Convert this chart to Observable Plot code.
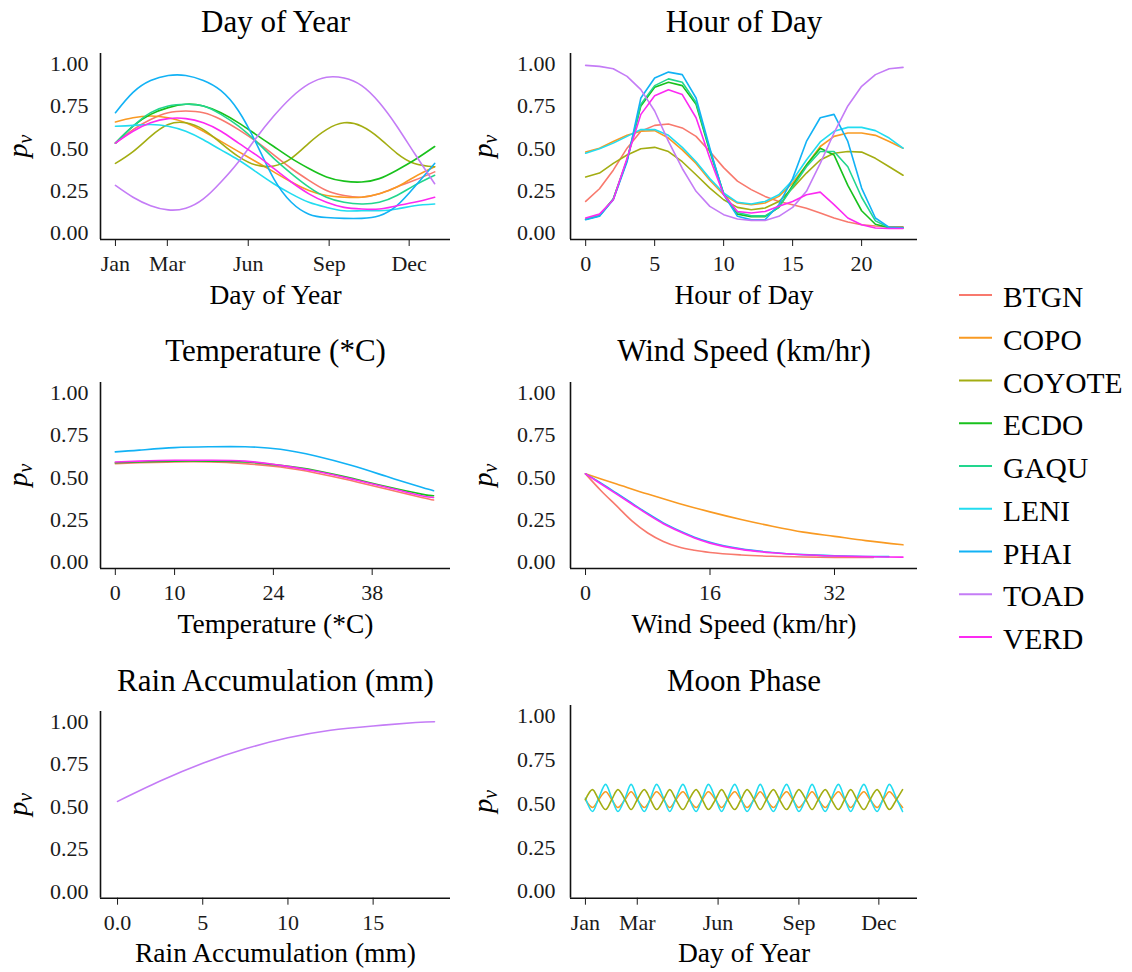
<!DOCTYPE html>
<html><head><meta charset="utf-8">
<script src="https://cdn.jsdelivr.net/npm/d3@7"></script>
<script src="https://cdn.jsdelivr.net/npm/@observablehq/plot@0.6"></script>
<style>
html,body{margin:0;padding:0;background:#fff;}
#root{position:relative;width:1132px;height:972px;overflow:hidden;background:#fff;}
#root svg{position:absolute;}
</style></head><body><div id="root"></div>
<script>
// ---------- shared ----------
const species = ["BTGN","COPO","COYOTE","ECDO","GAQU","LENI","PHAI","TOAD","VERD"];
const speciesColors = ["#F8796D","#F99A22","#A3AD12","#18C11C","#22D68E","#22DCF0","#12B2F5","#C47CF6","#FC2AF2"];
const yTickValues = [0, 0.25, 0.5, 0.75, 1];
const yTickLabels = ["0.00","0.25","0.50","0.75","1.00"];
const monthTickDays = [1, 60, 152, 244, 335];
const monthTickLabels = ["Jan","Mar","Jun","Sep","Dec"];

// ---------- Day of Year ----------
const doyDays = [1,21,41,61,81,101,121,141,161,181,201,221,241,261,281,301,321,341,364];
const doy_BTGN   = [0.52,0.60,0.66,0.70,0.71,0.70,0.66,0.60,0.53,0.45,0.37,0.30,0.24,0.21,0.20,0.22,0.26,0.30,0.35];
const doy_COPO   = [0.645,0.67,0.68,0.67,0.64,0.59,0.53,0.47,0.41,0.35,0.29,0.24,0.21,0.20,0.20,0.22,0.26,0.32,0.38];
const doy_COYOTE = [0.40,0.47,0.56,0.63,0.64,0.60,0.52,0.44,0.39,0.385,0.43,0.52,0.60,0.64,0.62,0.55,0.46,0.40,0.38];
const doy_ECDO   = [0.52,0.62,0.69,0.73,0.75,0.74,0.70,0.64,0.57,0.50,0.43,0.37,0.32,0.295,0.29,0.31,0.36,0.42,0.50];
const doy_GAQU   = [0.52,0.62,0.70,0.74,0.75,0.74,0.69,0.62,0.53,0.43,0.34,0.26,0.20,0.17,0.16,0.17,0.21,0.27,0.33];
const doy_LENI   = [0.62,0.625,0.63,0.62,0.59,0.54,0.48,0.42,0.35,0.28,0.22,0.17,0.14,0.12,0.12,0.12,0.13,0.15,0.16];
const doy_PHAI   = [0.70,0.82,0.89,0.92,0.92,0.89,0.83,0.71,0.52,0.31,0.17,0.10,0.08,0.075,0.075,0.09,0.15,0.26,0.40];
const doy_TOAD   = [0.27,0.20,0.15,0.125,0.135,0.19,0.29,0.41,0.55,0.68,0.79,0.87,0.91,0.905,0.86,0.76,0.62,0.46,0.28];
const doy_VERD   = [0.52,0.59,0.64,0.665,0.665,0.64,0.59,0.52,0.45,0.37,0.29,0.22,0.17,0.14,0.13,0.13,0.15,0.17,0.20];

// ---------- Hour of Day ----------
const hours = [0,1,2,3,4,5,6,7,8,9,10,11,12,13,14,15,16,17,18,19,20,21,22,23];
const hourTickValues = [0,5,10,15,20];
const hourTickLabels = ["0","5","10","15","20"];
const hod_BTGN   = [0.175,0.25,0.36,0.49,0.59,0.625,0.633,0.61,0.56,0.47,0.375,0.295,0.245,0.205,0.175,0.155,0.135,0.107,0.077,0.053,0.037,0.03,0.025,0.025];
const hod_COPO   = [0.467,0.49,0.53,0.566,0.59,0.594,0.55,0.48,0.40,0.30,0.215,0.166,0.156,0.166,0.205,0.284,0.39,0.50,0.56,0.58,0.58,0.566,0.53,0.49];
const hod_COYOTE = [0.32,0.343,0.40,0.45,0.487,0.495,0.47,0.41,0.333,0.254,0.185,0.14,0.126,0.136,0.175,0.254,0.343,0.42,0.46,0.47,0.467,0.43,0.38,0.33];
const hod_ECDO   = [0.07,0.09,0.19,0.42,0.74,0.85,0.88,0.86,0.75,0.47,0.22,0.10,0.085,0.085,0.14,0.27,0.39,0.49,0.45,0.27,0.12,0.04,0.02,0.02];
const hod_GAQU   = [0.07,0.09,0.19,0.42,0.75,0.86,0.90,0.88,0.76,0.48,0.22,0.11,0.09,0.09,0.14,0.26,0.38,0.47,0.47,0.38,0.20,0.06,0.02,0.02];
const hod_LENI   = [0.46,0.487,0.52,0.56,0.60,0.60,0.566,0.495,0.41,0.31,0.225,0.17,0.16,0.175,0.215,0.30,0.42,0.527,0.59,0.613,0.613,0.594,0.55,0.49];
const hod_PHAI   = [0.067,0.087,0.185,0.41,0.787,0.905,0.94,0.925,0.787,0.49,0.215,0.087,0.067,0.067,0.156,0.31,0.53,0.67,0.69,0.53,0.254,0.077,0.022,0.018];
const hod_TOAD   = [0.98,0.974,0.96,0.915,0.836,0.71,0.53,0.37,0.235,0.146,0.097,0.071,0.063,0.063,0.087,0.14,0.235,0.40,0.58,0.74,0.856,0.925,0.96,0.968];
const hod_VERD   = [0.077,0.10,0.185,0.43,0.69,0.80,0.836,0.807,0.67,0.43,0.215,0.116,0.107,0.116,0.146,0.175,0.215,0.23,0.156,0.077,0.037,0.018,0.015,0.015];

// ---------- Temperature ----------
const temps = [1.6,5,10,15,20,25,30,35,40,45,46.7];
const tempTickValues = [1.6,10,24,38];
const tempTickLabels = ["0","10","24","38"];
const temp_BTGN = [0.57,0.575,0.58,0.58,0.57,0.55,0.515,0.47,0.42,0.37,0.355];
const temp_ECDO = [0.575,0.58,0.585,0.585,0.58,0.56,0.53,0.485,0.435,0.39,0.38];
const temp_PHAI = [0.64,0.65,0.665,0.67,0.67,0.655,0.615,0.56,0.495,0.43,0.41];
const temp_VERD = [0.58,0.585,0.59,0.59,0.585,0.56,0.525,0.48,0.43,0.38,0.37];

// ---------- Wind Speed ----------
const windTickValues = [0,16,32];
const windTickLabels = ["0","16","32"];
const wind_BTGN_x = [0,2,4,6,8,10,12,14,16,20,24,28,32,37];
const wind_BTGN   = [0.51,0.41,0.32,0.23,0.16,0.11,0.077,0.058,0.045,0.03,0.022,0.018,0.016,0.015];
const wind_COPO_x = [0,4,8,12,16,20,24,28,32,36,40.8];
const wind_COPO   = [0.51,0.45,0.39,0.335,0.285,0.24,0.20,0.165,0.14,0.115,0.09];
const wind_PHAI_x = [0,2,4,6,8,10,12,14,16,20,24,28,32,36,39];
const wind_PHAI   = [0.51,0.455,0.395,0.335,0.275,0.22,0.175,0.135,0.105,0.066,0.045,0.032,0.025,0.021,0.02];
const wind_VERD_x = [0,2,4,6,8,10,12,14,16,20,24,28,32,36,40.8];
const wind_VERD   = [0.51,0.45,0.39,0.33,0.27,0.215,0.17,0.13,0.10,0.063,0.043,0.031,0.024,0.02,0.017];

// ---------- Rain ----------
const rainTickValues = [0,5,10,15];
const rainTickLabels = ["0.0","5","10","15"];
const rain_x = [0,2.5,5,7.5,10,12.5,15,17.5,18.6];
const rain_TOAD = [0.52,0.64,0.745,0.83,0.895,0.94,0.965,0.985,0.99];

// ---------- Moon Phase ----------
const moonDays = [1,9,16,24,31,38,46,53,60,68,75,82,90,97,104,112,119,127,134,141,149,156,163,171,178,185,193,200,207,215,222,230,237,244,252,259,266,274,281,289,296,303,310,318,325,333,340,347,355,362];
const moon_COPO   = [0.512,0.468,0.512,0.558,0.512,0.468,0.512,0.558,0.512,0.468,0.512,0.558,0.512,0.468,0.512,0.558,0.512,0.468,0.512,0.558,0.512,0.468,0.512,0.558,0.512,0.468,0.512,0.558,0.512,0.468,0.512,0.558,0.512,0.468,0.512,0.558,0.512,0.468,0.512,0.558,0.512,0.468,0.512,0.558,0.512,0.468,0.512,0.558,0.512,0.468];
const moon_COYOTE = [0.513,0.57,0.513,0.456,0.513,0.57,0.513,0.456,0.513,0.57,0.513,0.456,0.513,0.57,0.513,0.456,0.513,0.57,0.513,0.456,0.513,0.57,0.513,0.456,0.513,0.57,0.513,0.456,0.513,0.57,0.513,0.456,0.513,0.57,0.513,0.456,0.513,0.57,0.513,0.456,0.513,0.57,0.513,0.456,0.513,0.57,0.513,0.456,0.513,0.57];
const moon_LENI   = [0.52,0.445,0.52,0.60,0.52,0.445,0.52,0.60,0.52,0.445,0.52,0.60,0.52,0.445,0.52,0.60,0.52,0.445,0.52,0.60,0.52,0.445,0.52,0.60,0.52,0.445,0.52,0.60,0.52,0.445,0.52,0.60,0.52,0.445,0.52,0.60,0.52,0.445,0.52,0.60,0.52,0.445,0.52,0.60,0.52,0.445,0.52,0.60,0.52,0.445];

// ---------- build tables ----------
function rows(sp, xs, ys) { return xs.map((x, i) => ({species: sp, x, y: ys[i]})); }
const doyData = [
  ["BTGN", doy_BTGN], ["COPO", doy_COPO], ["COYOTE", doy_COYOTE], ["ECDO", doy_ECDO], ["GAQU", doy_GAQU],
  ["LENI", doy_LENI], ["PHAI", doy_PHAI], ["TOAD", doy_TOAD], ["VERD", doy_VERD]
].flatMap(([s, v]) => rows(s, doyDays, v));
const hodData = [
  ["BTGN", hod_BTGN], ["COPO", hod_COPO], ["COYOTE", hod_COYOTE], ["ECDO", hod_ECDO], ["GAQU", hod_GAQU],
  ["LENI", hod_LENI], ["PHAI", hod_PHAI], ["TOAD", hod_TOAD], ["VERD", hod_VERD]
].flatMap(([s, v]) => rows(s, hours, v));
const tempData = [["BTGN", temp_BTGN], ["ECDO", temp_ECDO], ["VERD", temp_VERD], ["PHAI", temp_PHAI]]
  .flatMap(([s, v]) => rows(s, temps, v));
const windData = [
  ["COPO", wind_COPO_x, wind_COPO], ["BTGN", wind_BTGN_x, wind_BTGN],
  ["PHAI", wind_PHAI_x, wind_PHAI], ["VERD", wind_VERD_x, wind_VERD]
].flatMap(([s, x, v]) => rows(s, x, v));
const rainData = rows("TOAD", rain_x, rain_TOAD);
const moonData = [["COPO", moon_COPO], ["LENI", moon_LENI], ["COYOTE", moon_COYOTE]]
  .flatMap(([s, v]) => rows(s, moonDays, v));

// ---------- drawing ----------
const FONT = "'Liberation Serif', 'Times New Roman', serif";
const root = document.getElementById("root");
const yFmt = new Map(yTickValues.map((t, i) => [t, yTickLabels[i]]));

function panel(o) {
  const xFmt = new Map(o.xTicks.map((t, i) => [t, o.xLabels[i]]));
  const svg = Plot.plot({
    width: o.width, height: o.height,
    marginLeft: o.mL, marginRight: o.mR, marginTop: o.mT, marginBottom: o.mB,
    style: {fontFamily: FONT, fontSize: "22px", color: "#1a1a1a", background: "transparent", overflow: "visible"},
    x: {domain: o.xDomain, ticks: o.xTicks, tickFormat: d => xFmt.get(d), tickSize: 7, tickPadding: 9, label: null},
    y: {domain: [-0.05, 1.05], ticks: yTickValues, tickFormat: d => yFmt.get(d), tickSize: 0, tickPadding: o.yPad, label: null},
    color: {domain: species, range: speciesColors},
    marks: [
      Plot.line(o.data, {x: "x", y: "y", z: "species", stroke: "species", strokeWidth: 1.6, curve: o.curve}),
      Plot.ruleX([o.xDomain[0]], {stroke: "#111", strokeWidth: 1.6}),
      Plot.ruleY([-0.05], {stroke: "#111", strokeWidth: 1.6}),
      Plot.text([o.title], {text: d => d, frameAnchor: "top", lineAnchor: "bottom", dy: o.titleBase - o.mT, fontSize: 31, fill: "#000"}),
      Plot.text([o.xTitle], {text: d => d, frameAnchor: "bottom", lineAnchor: "bottom", dy: 64, fontSize: 27.5, fill: "#000"})
    ]
  });
  svg.style.left = o.left + "px";
  svg.style.top = o.top + "px";
  // y-axis title: italic p with subscript v
  const s = d3.select(svg);
  const cy = o.mT + (o.height - o.mT - o.mB) / 2;
  const t = s.append("text")
    .attr("transform", `translate(${o.mL - o.yTitleOff},${cy}) rotate(-90)`)
    .attr("text-anchor", "middle").attr("font-family", FONT).attr("fill", "#000");
  t.append("tspan").attr("font-style", "italic").attr("font-size", 28).text("p");
  t.append("tspan").attr("font-style", "italic").attr("font-size", 20).attr("dy", 5).text("v");
  s.selectAll('g[aria-label="y-axis tick label"]').each(function() {
    const tr = this.getAttribute("transform") || "";
    this.setAttribute("transform", tr + " translate(0,2)");
  });
  root.appendChild(svg);
}

const col1 = {left: 0, width: 460, mL: 100, mR: 10, yPad: 12, yTitleOff: 73};
const col2 = {left: 460, width: 480, mL: 110, mR: 23, yPad: 15, yTitleOff: 78};

panel({...col1, top: 0, height: 320, mT: 53, mB: 81, titleBase: 31.5,
  xDomain: [-16, 382], xTicks: monthTickDays, xLabels: monthTickLabels,
  title: "Day of Year", xTitle: "Day of Year", data: doyData, curve: "natural"});
panel({...col2, top: 0, height: 320, mT: 53, mB: 81, titleBase: 31.5,
  xDomain: [-1.1, 24.05], xTicks: hourTickValues, xLabels: hourTickLabels,
  title: "Hour of Day", xTitle: "Hour of Day", data: hodData, curve: "linear"});
panel({...col1, top: 320, height: 330, mT: 62, mB: 82, titleBase: 40.7,
  xDomain: [-0.5, 49.1], xTicks: tempTickValues, xLabels: tempTickLabels,
  title: "Temperature (*C)", xTitle: "Temperature (*C)", data: tempData, curve: "natural"});
panel({...col2, top: 320, height: 330, mT: 62, mB: 82, titleBase: 40.7,
  xDomain: [-1.93, 42.67], xTicks: windTickValues, xLabels: windTickLabels,
  title: "Wind Speed (km/hr)", xTitle: "Wind Speed (km/hr)", data: windData, curve: "monotone-x"});
panel({...col1, top: 650, height: 322, mT: 61, mB: 74.3, titleBase: 40,
  xDomain: [-1.0, 19.54], xTicks: rainTickValues, xLabels: rainTickLabels,
  title: "Rain Accumulation (mm)", xTitle: "Rain Accumulation (mm)", data: rainData, curve: "natural"});
panel({...col2, top: 650, height: 322, mT: 55, mB: 74.3, titleBase: 40,
  xDomain: [-16, 379], xTicks: monthTickDays, xLabels: monthTickLabels,
  title: "Moon Phase", xTitle: "Day of Year", data: moonData, curve: "catmull-rom"});

// ---------- legend ----------
const leg = d3.create("svg").attr("width", 192).attr("height", 400)
  .style("left", "940px").style("top", "270px");
species.forEach((sp, i) => {
  leg.append("line").attr("x1", 19).attr("x2", 52).attr("y1", 25 + 42.75 * i).attr("y2", 25 + 42.75 * i)
    .attr("stroke", speciesColors[i]).attr("stroke-width", 2.2);
  leg.append("text").attr("x", 63).attr("y", 37 + 42.75 * i).attr("font-family", FONT)
    .attr("font-size", 29.5).attr("fill", "#000").text(sp);
});
root.appendChild(leg.node());
</script>
</body></html>
